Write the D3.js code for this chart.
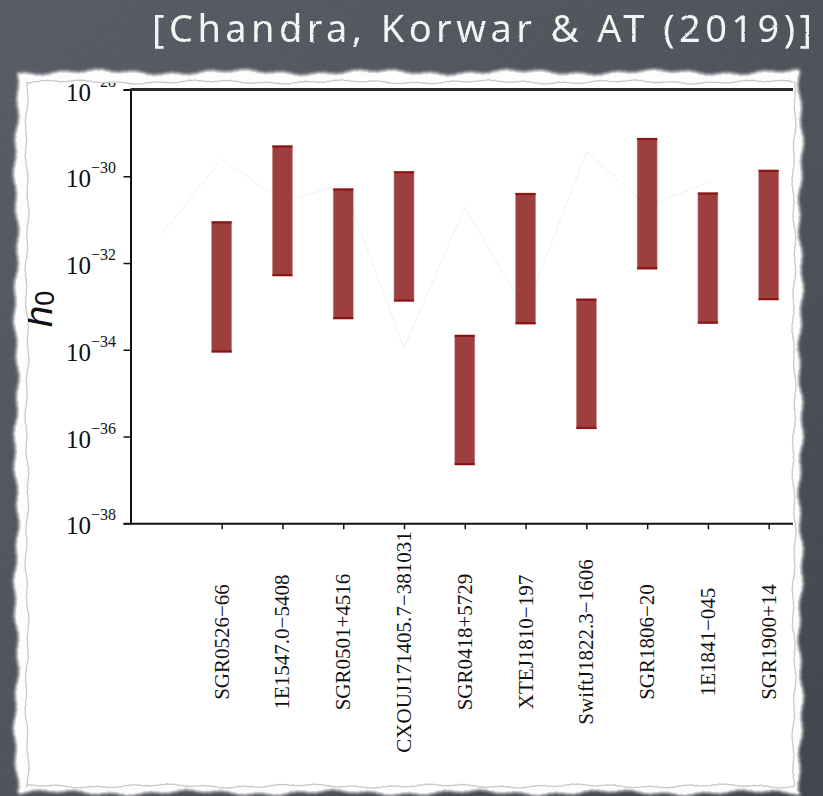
<!DOCTYPE html>
<html><head><meta charset="utf-8">
<script src="https://cdn.jsdelivr.net/npm/d3@7"></script>
<style>html,body{margin:0;padding:0;background:#4d525b;}svg{display:block;}</style>
</head><body>
<svg id="chart" width="823" height="796"></svg>
<script>
// ---------------- data ----------------
const categories = ["SGR0526\u221266","1E1547.0\u22125408","SGR0501+4516","CXOUJ171405.7\u2212381031","SGR0418+5729","XTEJ1810\u2212197","SwiftJ1822.3\u22121606","SGR1806\u221220","1E1841\u2212045","SGR1900+14"];
const categoryPos = [1,2,3,4,5,6,7,8,9,10];
const upperH0 = [9.1e-32, 5.1e-30, 5.2e-31, 1.3e-30, 2.2e-34, 4.1e-31, 1.5e-33, 7.6e-30, 4.2e-31, 1.4e-30];
const lowerH0 = [8.7e-35, 5.0e-33, 5.1e-34, 1.3e-33, 2.2e-37, 3.9e-34, 1.5e-36, 7.2e-33, 4.0e-34, 1.4e-33];
const faintPos = [0,1,2,3,4,5,6,7,8,9];
const faintH0 = [4.4e-32, 2.5e-30, 2.6e-31, 6.5e-31, 1.1e-34, 1.9e-31, 7.9e-34, 3.6e-30, 2.1e-31, 7.1e-31];
const yTickExp = [-38,-36,-34,-32,-30,-28];
const titleText = "[Chandra, Korwar & AT (2019)]";

// ---------------- setup ----------------
const svg = d3.select("#chart");
const W = 823, H = 796;
const defs = svg.append("defs");

const f = defs.append("filter").attr("id","board").attr("x",0).attr("y",0).attr("width","100%").attr("height","100%");
f.append("feTurbulence").attr("type","fractalNoise").attr("baseFrequency","0.35").attr("numOctaves",3).attr("seed",4).attr("result","n");
f.append("feColorMatrix").attr("in","n").attr("type","matrix")
  .attr("values","0 0 0 0 0.8  0 0 0 0 0.82  0 0 0 0 0.86  0.8 0 0 0 -0.2").attr("result","c");
f.append("feComposite").attr("in","c").attr("in2","SourceGraphic").attr("operator","in");

const chalk = defs.append("filter").attr("id","chalk");
chalk.append("feTurbulence").attr("type","fractalNoise").attr("baseFrequency","0.9").attr("numOctaves",2).attr("seed",2).attr("result","t");
chalk.append("feDisplacementMap").attr("in","SourceGraphic").attr("in2","t").attr("scale",2);

const blur = defs.append("filter").attr("id","soft").attr("x","-5%").attr("y","-5%").attr("width","110%").attr("height","110%");
blur.append("feGaussianBlur").attr("stdDeviation",1.6);

const grad = defs.append("linearGradient").attr("id","boardGrad").attr("x1",0).attr("y1",0).attr("x2",1).attr("y2",1);
grad.append("stop").attr("offset","0").attr("stop-color","#575b63");
grad.append("stop").attr("offset","0.6").attr("stop-color","#4c5059");
grad.append("stop").attr("offset","1").attr("stop-color","#40444c");

svg.append("rect").attr("width",W).attr("height",H).attr("fill","url(#boardGrad)");
svg.append("rect").attr("width",W).attr("height",H).attr("fill","#fff").attr("opacity",0.07).attr("filter","url(#board)");

// title
svg.append("text").attr("x",152).attr("y",42)
  .attr("font-family","'Noto Sans', sans-serif").attr("font-size",38).attr("font-weight",400)
  .attr("fill","#f4f4f4").attr("textLength",660).attr("lengthAdjust","spacing")
  .attr("filter","url(#chalk)").text(titleText);

// torn paper (deterministic wobble)
function wob(t, s){ return 1.2*Math.sin(t*0.045+s) + 0.8*Math.sin(t*0.17+2*s) + 0.35*Math.sin(t*0.9+3*s); }
function tornPath(l,t,r,b,amp,s){
  const pts=[];
  for(let x=l;x<=r;x+=3) pts.push([x, t+amp*wob(x,s)]);
  for(let y=t;y<=b;y+=3) pts.push([r+amp*wob(y,s+1), y]);
  for(let x=r;x>=l;x-=3) pts.push([x, b+amp*wob(x,s+2)]);
  for(let y=b;y>=t;y-=3) pts.push([l+amp*wob(y,s+3), y]);
  return d3.line()(pts)+"Z";
}
svg.append("path").attr("d",tornPath(16,72,801,793,1.5,0.3)).attr("fill","#eeeeee").attr("filter","url(#soft)");
svg.append("path").attr("d",tornPath(18,74,799,791,1.5,0.3)).attr("fill","#fdfdfd");
svg.append("path").attr("d",tornPath(27,82,794,786,1.0,1.7)).attr("fill","#fff").attr("stroke","#c9c9c9").attr("stroke-width",1.3);

// ---------------- chart ----------------
defs.append("clipPath").attr("id","clipC").append("rect").attr("x",28).attr("y",83).attr("width",765).attr("height",702);
const g = svg.append("g").attr("clip-path","url(#clipC)");

const x = d3.scaleLinear().domain([-0.5,10.4]).range([130.5,793]);
const y = d3.scaleLog().domain([1e-38,1e-28]).range([523.3,89.5]);

// faint line
g.append("path").datum(faintPos.map((p,i)=>[p,faintH0[i]]))
  .attr("d", d3.line().x(d=>x(d[0])).y(d=>y(d[1])))
  .attr("fill","none").attr("stroke","#edf1f6").attr("stroke-width",1);

// bars
const bw = 20;
const bars = g.append("g");
categories.forEach((c,i)=>{
  const cx = x(categoryPos[i]);
  const yt = y(upperH0[i]), yb = y(lowerH0[i]);
  bars.append("rect").attr("x",cx-bw/2).attr("y",yt).attr("width",bw).attr("height",yb-yt)
    .attr("fill","#9d3f3f").attr("stroke","#c98f8f").attr("stroke-width",0.6);
  bars.append("line").attr("x1",cx-bw/2).attr("x2",cx+bw/2).attr("y1",yt+1).attr("y2",yt+1).attr("stroke","#8a1414").attr("stroke-width",2);
  bars.append("line").attr("x1",cx-bw/2).attr("x2",cx+bw/2).attr("y1",yb-1).attr("y2",yb-1).attr("stroke","#8a1414").attr("stroke-width",2);
});

// axes
const yAx = g.append("g").attr("transform",`translate(${x(-0.5)},0)`)
  .call(d3.axisLeft(y).tickValues(yTickExp.map(e=>Math.pow(10,e))).tickSize(7).tickFormat(""));
yAx.select(".domain").attr("stroke","#111").attr("stroke-width",2);
yAx.selectAll(".tick line").attr("stroke","#111").attr("stroke-width",1.5);

const xAx = g.append("g").attr("transform",`translate(0,${y(1e-38)})`)
  .call(d3.axisBottom(x).tickValues(categoryPos).tickSize(6).tickFormat("").tickSizeOuter(0));
xAx.select(".domain").attr("stroke","#111").attr("stroke-width",2);
xAx.selectAll(".tick line").attr("stroke","#111").attr("stroke-width",1.5);

g.append("line").attr("x1",x(-0.5)).attr("x2",x(10.4)).attr("y1",y(1e-28)).attr("y2",y(1e-28))
  .attr("stroke","#2a2a2a").attr("stroke-width",3);

// y tick labels
yTickExp.forEach(e=>{
  const ty = y(Math.pow(10,e));
  const t = g.append("text").attr("x",116).attr("y",ty+11).attr("text-anchor","end")
    .attr("font-family","'Liberation Serif', 'Times New Roman', serif").attr("fill","#111");
  t.append("tspan").attr("font-size",25).text("10");
  t.append("tspan").attr("font-size",16).attr("dy",-14).text("\u2212"+Math.abs(e));
});

// x labels
categories.forEach((c,i)=>{
  const cx = x(categoryPos[i]);
  g.append("text").attr("transform",`translate(${cx+7},642) rotate(-90)`)
    .attr("text-anchor","middle").attr("font-family","'Liberation Serif', 'Times New Roman', serif")
    .attr("font-size",21).attr("fill","#111").text(c);
});

// y axis label h0
const yl = g.append("text").attr("transform","translate(52,327) rotate(-90)")
  .attr("text-anchor","start").attr("font-family","'Liberation Sans', Arial, sans-serif").attr("fill","#111");
yl.append("tspan").attr("font-style","italic").attr("font-size",38).text("h");
yl.append("tspan").attr("font-size",27).attr("dy",2).text("0");
</script>
</body></html>
